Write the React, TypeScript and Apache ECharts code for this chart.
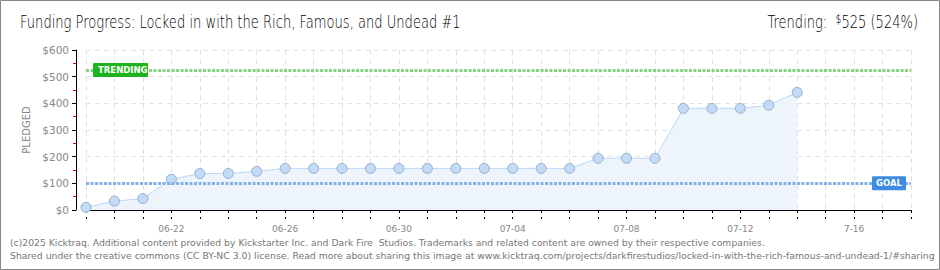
import React, { useEffect, useRef } from "react";
import * as echarts from "echarts";

const categories = [
  "06-19", "06-20", "06-21", "06-22", "06-23", "06-24", "06-25", "06-26", "06-27", "06-28",
  "06-29", "06-30", "07-01", "07-02", "07-03", "07-04", "07-05", "07-06", "07-07", "07-08",
  "07-09", "07-10", "07-11", "07-12", "07-13", "07-14", "07-15", "07-16", "07-17", "07-18",
];
const pledged = [
  10, 33, 43, 115, 137, 137, 145, 156, 156, 156, 156, 156, 156, 156, 156, 156, 156, 156,
  194, 194, 194, 381, 381, 381, 393, 441,
];
const xTickLabels = ["06-22", "06-26", "06-30", "07-04", "07-08", "07-12", "7-16"];
const goal = 100;
const trending = 525;
const titleText = "Funding Progress: Locked in with the Rich, Famous, and Undead #1";
const trendingPlain = "Trending:  $525 (524%)";
const trendingText = "Trending:  {sup|$}525 (524%)";
const footer1 =
  "(c)2025 Kicktraq. Additional content provided by Kickstarter Inc. and Dark Fire  Studios. Trademarks and related content are owned by their respective companies.";
const footer2 =
  "Shared under the creative commons (CC BY-NC 3.0) license. Read more about sharing this image at www.kicktraq.com/projects/darkfirestudios/locked-in-with-the-rich-famous-and-undead-1/#sharing";

const TITLE_FONT = "'DejaVu Sans', sans-serif";
const SMALL_FONT = "'DejaVu Sans', sans-serif";

function measure(text: string, font: string): number {
  const c = document.createElement("canvas").getContext("2d");
  if (!c) return 1;
  c.font = font;
  return c.measureText(text).width || 1;
}

export default function App() {
  const ref = useRef<HTMLDivElement>(null);
  useEffect(() => {
    if (!ref.current) return;
    const chart = echarts.init(ref.current, undefined, { renderer: "svg" });
    const dashed = { color: "#e2e2e2", type: [5, 4] as any, width: 1 };
    chart.setOption({
      animation: false,
      backgroundColor: "#fff",
      grid: { left: 86, right: 29, top: 50, bottom: 60 },
      xAxis: [
        {
          type: "category",
          data: categories,
          boundaryGap: false,
          offset: 9,
          axisLine: { show: true, lineStyle: { color: "#000", width: 1 } },
          axisTick: { show: true, interval: 0, length: 3, lineStyle: { color: "#000" } },
          axisLabel: {
            interval: 0,
            color: "#888",
            fontFamily: SMALL_FONT,
            fontSize: 9,
            margin: 5,
            formatter: (_v: string, i: number) =>
              i % 4 === 3 ? xTickLabels[(i - 3) / 4] ?? "" : "",
          },
          splitLine: { show: true, interval: 0, lineStyle: dashed },
        },
        {
          type: "category",
          data: categories,
          boundaryGap: false,
          position: "bottom",
          offset: 9,
          axisLine: { show: false },
          axisTick: { show: true, inside: true, interval: 0, length: 2, lineStyle: { color: "#000" } },
          axisLabel: { show: false },
          splitLine: { show: false },
        },
      ],
      yAxis: {
        type: "value",
        min: 0,
        max: 600,
        interval: 100,
        offset: 10,
        name: "PLEDGED",
        nameLocation: "middle",
        nameGap: 42,
        nameTextStyle: { color: "#888", fontFamily: SMALL_FONT, fontSize: 10 },
        axisLine: { show: true, lineStyle: { color: "#000", width: 1 } },
        axisTick: { show: true, length: 4, lineStyle: { color: "#000" } },
        minorTick: { show: true, splitNumber: 2, length: 3, lineStyle: { color: "#e00" } },
        axisLabel: {
          color: "#888",
          fontFamily: SMALL_FONT,
          fontSize: 10.5,
          margin: 7,
          formatter: (v: number) => "$" + v,
        },
        splitLine: { show: true, lineStyle: dashed },
      },
      series: [
        {
          type: "line",
          data: pledged,
          symbol: "circle",
          symbolSize: 10,
          showAllSymbol: true,
          lineStyle: { color: "#bcd8f6", width: 1 },
          itemStyle: { color: "#c2dcf7", borderColor: "#97aecb", borderWidth: 1 },
          areaStyle: { color: "#edf4fc", opacity: 1 },
          z: 3,
          markLine: {
            silent: true,
            symbol: "none",
            label: { show: false },
            data: [
              { yAxis: trending, lineStyle: { color: "#86d486", width: 3, type: [3, 1.5] } },
              { yAxis: goal, lineStyle: { color: "#82b2e8", width: 3, type: [3, 1.5] } },
            ],
            z: 4,
          },
        },
      ],
    });

    const yT = chart.convertToPixel({ yAxisIndex: 0 }, trending) as number;
    const yG = chart.convertToPixel({ yAxisIndex: 0 }, goal) as number;
    const xS = chart.convertToPixel({ xAxisIndex: 0 }, 0) as number;
    const xE = chart.convertToPixel({ xAxisIndex: 0 }, categories.length - 1) as number;

    const titleSize = 17;
    const titleWeight = 200;
    const titleFontCss = `${titleWeight} ${titleSize}px 'DejaVu Sans'`;
    const titleScale = 441 / measure(titleText, titleFontCss);
    const trendScale = 153 / measure(trendingPlain, titleFontCss);
    const f1Scale = 755 / measure(footer1, `9px 'DejaVu Sans'`);
    const f2Scale = 926 / measure(footer2, `9px 'DejaVu Sans'`);

    chart.setOption({
      graphic: [
        {
          type: "rect",
          shape: { x: 0.5, y: 0.5, width: 939, height: 269 },
          style: { fill: "none", stroke: "#888", lineWidth: 1 },
          silent: true,
        },
        {
          type: "text",
          x: 20,
          y: 22,
          scaleX: titleScale,
          style: {
            text: titleText,
            fontFamily: TITLE_FONT,
            fontSize: titleSize,
            fontWeight: titleWeight,
            fill: "#000",
            verticalAlign: "middle",
          },
        },
        {
          type: "text",
          x: 918,
          y: 22,
          scaleX: trendScale,
          style: {
            text: trendingText,
            fontFamily: TITLE_FONT,
            fontSize: titleSize,
            fontWeight: titleWeight,
            fill: "#000",
            align: "right",
            verticalAlign: "middle",
            rich: {
              sup: {
                fontFamily: TITLE_FONT,
                fontSize: 12,
                fontWeight: titleWeight,
                verticalAlign: "top",
                padding: [0, 0, 6, 0],
              },
            },
          },
        },
        {
          type: "text",
          x: 10,
          y: 243,
          scaleX: f1Scale,
          style: { text: footer1, fontFamily: SMALL_FONT, fontSize: 9, fill: "#777", verticalAlign: "middle" },
        },
        {
          type: "text",
          x: 10,
          y: 256,
          scaleX: f2Scale,
          style: { text: footer2, fontFamily: SMALL_FONT, fontSize: 9, fill: "#777", verticalAlign: "middle" },
        },
        {
          type: "rect",
          z: 10,
          shape: { x: xS + 7, y: yT - 7, width: 55, height: 14, r: 1 },
          style: { fill: "#1db31d" },
        },
        {
          type: "text",
          z: 11,
          x: xS + 12,
          y: yT,
          style: {
            text: "TRENDING",
            fontFamily: SMALL_FONT,
            fontSize: 8.5,
            fontWeight: "bold",
            fill: "#fff",
            verticalAlign: "middle",
          },
        },
        {
          type: "rect",
          z: 10,
          shape: { x: xE - 39, y: yG - 7, width: 34, height: 14, r: 1 },
          style: { fill: "#3d8ce0" },
        },
        {
          type: "text",
          z: 11,
          x: xE - 35,
          y: yG,
          style: {
            text: "GOAL",
            fontFamily: SMALL_FONT,
            fontSize: 8.5,
            fontWeight: "bold",
            fill: "#fff",
            verticalAlign: "middle",
          },
        },
      ],
    });
    return () => chart.dispose();
  }, []);
  return (
    <div
      ref={ref}
      style={{ position: "absolute", left: 0, top: 0, width: 940, height: 270 }}
    />
  );
}
